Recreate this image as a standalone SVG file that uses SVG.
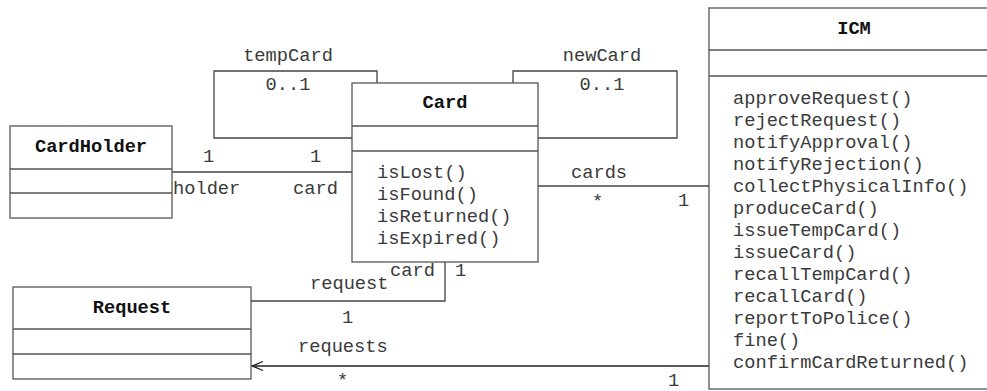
<svg xmlns="http://www.w3.org/2000/svg" width="987" height="391" viewBox="0 0 987 391">
  <style>
    text { font-family: "Liberation Mono", "Courier New", monospace; font-size: 18.7px; fill: #3a3a3a; }
    .title { font-weight: bold; fill: #111; text-anchor: middle; }
    .box { fill: #fff; stroke: #555; stroke-width: 1.3; }
    .sep { stroke: #555; stroke-width: 1.3; }
    .conn { fill: none; stroke: #444; stroke-width: 1.3; }
    .mid { text-anchor: middle; }
  </style>
  <defs>
    <marker id="open-arrow" markerWidth="14" markerHeight="14" refX="12" refY="7" orient="auto" markerUnits="userSpaceOnUse">
      <path d="M1,2.5 L12,7 L1,11.5" fill="none" stroke="#222" stroke-width="1.3"/>
    </marker>
  </defs>

  <!-- associations -->
  <g id="connectors">
    <!-- tempCard self-association -->
    <polyline class="conn" points="377,83 377,71 214,71 214,138 352,138"/>
    <text class="mid" x="288" y="61">tempCard</text>
    <text class="mid" x="288" y="90">0..1</text>
    <!-- newCard self-association -->
    <polyline class="conn" points="513,83 513,71 677,71 677,138 538,138"/>
    <text class="mid" x="602" y="61">newCard</text>
    <text class="mid" x="602" y="90">0..1</text>
    <!-- CardHolder - Card -->
    <line class="conn" x1="172" y1="172" x2="352" y2="172"/>
    <text x="203" y="162">1</text>
    <text x="310" y="162">1</text>
    <text x="173" y="194">holder</text>
    <text x="293" y="194">card</text>
    <!-- Card - ICM -->
    <line class="conn" x1="538" y1="186" x2="709" y2="186"/>
    <text x="571" y="178">cards</text>
    <text x="592" y="207">*</text>
    <text x="678" y="206">1</text>
    <!-- Card - Request -->
    <polyline class="conn" points="445,262 445,301 251,301"/>
    <text x="390" y="276">card</text>
    <text x="455" y="276">1</text>
    <text x="310" y="289">request</text>
    <text x="342" y="323">1</text>
    <!-- ICM -> Request -->
    <line x1="709" y1="366" x2="252" y2="366" stroke="#222" stroke-width="1.3" marker-end="url(#open-arrow)"/>
    <text x="298" y="352">requests</text>
    <text x="337" y="386">*</text>
    <text x="668" y="386">1</text>
  </g>

  <g id="CardHolder">
    <rect class="box" x="10" y="126" width="162" height="92"/>
    <line class="sep" x1="10" y1="169" x2="172" y2="169"/>
    <line class="sep" x1="10" y1="193" x2="172" y2="193"/>
    <text class="title" x="91" y="152">CardHolder</text>
  </g>

  <g id="Card">
    <rect class="box" x="352" y="83" width="186" height="179"/>
    <line class="sep" x1="352" y1="126" x2="538" y2="126"/>
    <line class="sep" x1="352" y1="151" x2="538" y2="151"/>
    <text class="title" x="445" y="108">Card</text>
    <text x="377" y="178">isLost()</text>
    <text x="377" y="200">isFound()</text>
    <text x="377" y="222">isReturned()</text>
    <text x="377" y="244">isExpired()</text>
  </g>

  <g id="Request">
    <rect class="box" x="13" y="287" width="238" height="92"/>
    <line class="sep" x1="13" y1="329" x2="251" y2="329"/>
    <line class="sep" x1="13" y1="354" x2="251" y2="354"/>
    <text class="title" x="132" y="313">Request</text>
  </g>

  <g id="ICM">
    <rect class="box" x="709" y="8" width="290" height="381"/>
    <line class="sep" x1="709" y1="50" x2="999" y2="50"/>
    <line class="sep" x1="709" y1="76" x2="999" y2="76"/>
    <text class="title" x="854" y="34">ICM</text>
    <text x="733" y="104">approveRequest()</text>
    <text x="733" y="126">rejectRequest()</text>
    <text x="733" y="148">notifyApproval()</text>
    <text x="733" y="170">notifyRejection()</text>
    <text x="733" y="192">collectPhysicalInfo()</text>
    <text x="733" y="214">produceCard()</text>
    <text x="733" y="236">issueTempCard()</text>
    <text x="733" y="258">issueCard()</text>
    <text x="733" y="280">recallTempCard()</text>
    <text x="733" y="302">recallCard()</text>
    <text x="733" y="324">reportToPolice()</text>
    <text x="733" y="346">fine()</text>
    <text x="733" y="368">confirmCardReturned()</text>
  </g>
</svg>
